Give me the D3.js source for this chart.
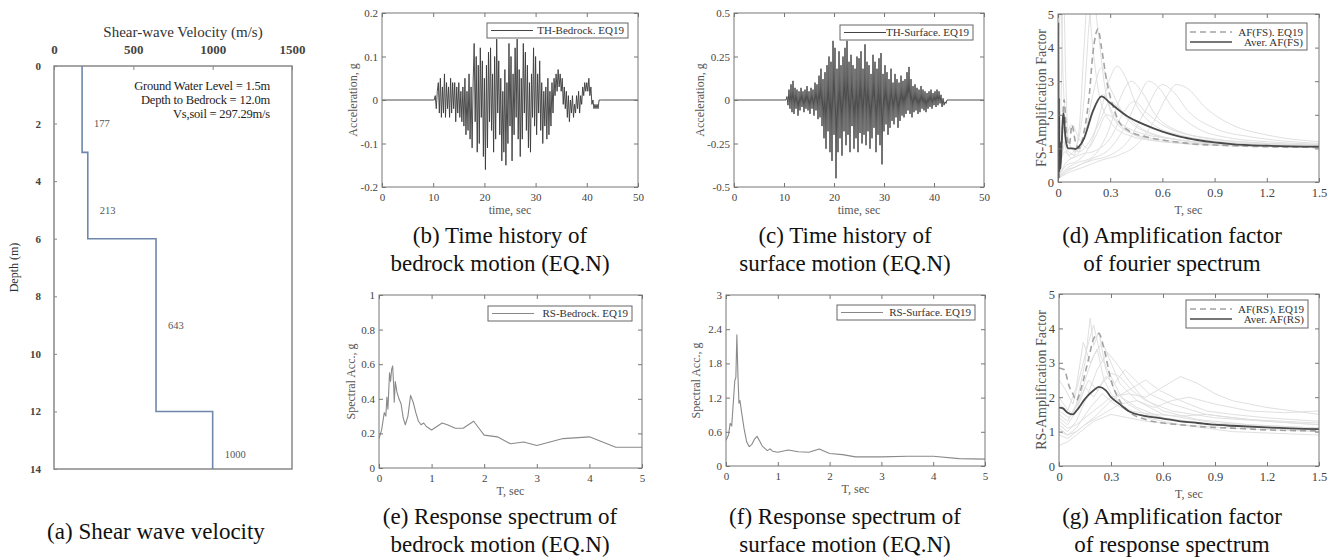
<!DOCTYPE html>
<html>
<head>
<meta charset="utf-8">
<script src="https://cdn.jsdelivr.net/npm/d3@7"></script>
<style>
	body { margin: 0; background: #fff; }
	svg text { font-family: 'Liberation Serif', 'Times New Roman', serif; }
</style>
</head>
<body>
<svg id="fig" width="1337" height="559"></svg>
<script>
// ---- data ----
const vsLayerTop = [0, 3, 6, 12]
const vsLayerBottom = [3, 6, 12, 14]
const vsValues = [177, 213, 643, 1000]
const siteNotes = ['Ground Water Level = 1.5m', 'Depth to Bedrock = 12.0m', 'Vs,soil = 297.29m/s']

// acceleration time histories, one sample every 0.2 s from 10 s
const thStart = 10
const thStep = 0.2
const thEnd = 50
const bedrockAcc = [
	0, 0, 0.01, -0.02, 0.02,
	0.04, -0.03, 0.05, -0.04, 0.03,
	-0.03, 0.06, -0.04, 0.04, -0.02,
	0.03, -0.04, 0.05, -0.03, 0.04,
	-0.02, 0.04, -0.05, 0.03, -0.03,
	0.04, -0.04, 0.02, -0.05, 0.03,
	-0.06, 0.05, -0.08, 0.02, -0.07,
	0.06, -0.09, 0.03, -0.11, 0.04,
	0.13, -0.05, 0.10, -0.12, 0.08,
	-0.10, 0.12, -0.04, 0.09, -0.13,
	0.05, -0.16, 0.08, -0.11, 0.11,
	-0.05, 0.12, -0.07, 0.06, -0.12,
	0.10, -0.09, 0.14, -0.03, 0.09,
	-0.08, 0.05, -0.14, 0.02, -0.12,
	0.07, -0.15, 0.04, -0.10, 0.13,
	-0.06, 0.10, -0.14, 0.06, -0.08,
	0.12, -0.04, 0.14, -0.09, 0.07,
	-0.13, 0.05, -0.09, 0.13, -0.03,
	0.11, -0.07, 0.08, -0.11, 0.04,
	-0.12, 0.06, -0.04, 0.12, -0.06,
	0.10, -0.08, 0.06, -0.03, 0.09,
	-0.07, 0.04, -0.10, 0.02, -0.06,
	0.03, -0.09, 0.05, -0.08, 0.02,
	-0.06, 0.04, -0.03, 0.05, 0.01,
	0.06, 0.02, 0.07, 0.03, 0.06,
	0.02, 0.05, -0.01, 0.03, -0.02,
	0.02, -0.04, 0.01, -0.05, 0.00,
	-0.03, 0.01, -0.04, -0.01, -0.03,
	0.01, -0.02, 0.02, -0.03, 0.01,
	-0.01, 0.03, 0.01, 0.04, 0.02,
	0.04, 0.02, 0.05, 0.01, 0.03,
	-0.01, 0.00, -0.02, -0.01, -0.02,
	-0.01, -0.02, 0.00, 0.00, 0.00
]
const surfaceAcc = [
	0, 0, 0, 0.02, -0.03,
	0.06, -0.05, 0.09, -0.07, 0.11,
	-0.08, 0.07, -0.05, 0.06, -0.09,
	0.05, -0.06, 0.07, -0.04, 0.05,
	-0.07, 0.06, -0.05, 0.08, -0.06,
	0.05, -0.08, 0.07, -0.05, 0.06,
	-0.09, 0.10, -0.06, 0.09, -0.11,
	0.14, -0.10, 0.18, -0.15, 0.12,
	-0.22, 0.16, -0.28, 0.20, -0.18,
	0.25, -0.30, 0.22, -0.35, 0.34,
	-0.20, 0.30, -0.45, 0.18, -0.30,
	0.28, -0.22, 0.20, -0.32, 0.25,
	-0.18, 0.30, -0.26, 0.34, -0.20,
	0.22, -0.30, 0.26, -0.15, 0.20,
	-0.28, 0.18, -0.22, 0.25, -0.30,
	0.24, -0.19, 0.28, -0.25, 0.18,
	-0.20, 0.32, -0.26, 0.22, -0.18,
	0.20, -0.28, 0.15, -0.22, 0.26,
	-0.16, 0.22, -0.30, 0.18, -0.20,
	0.24, -0.26, 0.27, -0.37, 0.15,
	-0.18, 0.20, -0.14, 0.16, -0.20,
	0.12, -0.16, 0.18, -0.12, 0.10,
	-0.14, 0.15, -0.10, 0.12, -0.16,
	0.10, -0.12, 0.14, -0.09, 0.11,
	-0.10, 0.12, -0.08, 0.16, -0.06,
	0.19, -0.08, 0.12, -0.10, 0.08,
	-0.07, 0.09, -0.06, 0.07, -0.08,
	0.06, -0.07, 0.08, -0.05, 0.06,
	-0.06, 0.05, -0.07, 0.04, -0.05,
	0.05, -0.04, 0.06, -0.05, 0.04,
	-0.03, 0.05, -0.04, 0.06, -0.03,
	0.05, -0.02, 0.03, -0.04, 0.01,
	-0.03, -0.01, -0.02, 0.00, 0.00
]

// response spectra [T (s), Sa (g)]
const rsBedrock = [
	[0, 0.17], [0.05, 0.22], [0.1, 0.32], [0.13, 0.3], [0.15, 0.41], [0.17, 0.34], [0.2, 0.55],
	[0.22, 0.5], [0.24, 0.57], [0.26, 0.59], [0.28, 0.47], [0.29, 0.38], [0.31, 0.5], [0.34, 0.44],
	[0.38, 0.4], [0.42, 0.37], [0.46, 0.29], [0.5, 0.25], [0.55, 0.3], [0.6, 0.42], [0.65, 0.38],
	[0.7, 0.32], [0.75, 0.27], [0.8, 0.25], [0.85, 0.26], [0.9, 0.24], [1.0, 0.22], [1.1, 0.24],
	[1.2, 0.26], [1.3, 0.25], [1.45, 0.23], [1.6, 0.23], [1.7, 0.25], [1.8, 0.27], [1.9, 0.23],
	[2.0, 0.19], [2.25, 0.18], [2.5, 0.14], [2.75, 0.15], [3.0, 0.13], [3.25, 0.15], [3.5, 0.17],
	[4.0, 0.18], [4.5, 0.12], [5.0, 0.12]
]
const rsSurface = [
	[0, 0.45], [0.05, 0.55], [0.08, 0.75], [0.11, 0.7], [0.14, 1.1], [0.17, 1.5], [0.19, 1.55],
	[0.21, 2.3], [0.23, 1.6], [0.25, 1.1], [0.27, 1.15], [0.3, 0.95], [0.35, 0.65], [0.4, 0.42],
	[0.45, 0.34], [0.5, 0.38], [0.55, 0.47], [0.6, 0.52], [0.65, 0.44], [0.7, 0.35], [0.8, 0.27],
	[0.85, 0.3], [0.9, 0.26], [1.0, 0.24], [1.2, 0.28], [1.4, 0.25], [1.6, 0.24], [1.8, 0.3],
	[2.0, 0.22], [2.25, 0.2], [2.5, 0.16], [3.0, 0.16], [3.5, 0.17], [4.0, 0.17], [4.5, 0.13], [5.0, 0.12]
]

// amplification factor of fourier spectrum [T, AF]
const afFsAll = [
	[[0, 0.3], [0.03, 1.2], [0.06, 0.8], [0.1, 1.0], [0.15, 2.5], [0.18, 4.8], [0.2, 5.6], [0.23, 4.5], [0.27, 2.8], [0.32, 1.9], [0.4, 1.5], [0.6, 1.25], [0.9, 1.12], [1.2, 1.08], [1.5, 1.05]],
	[[0, 0.2], [0.02, 3.0], [0.03, 6], [0.045, 3], [0.06, 1.2], [0.1, 0.9], [0.15, 1.3], [0.22, 2.3], [0.26, 2.6], [0.32, 2.0], [0.45, 1.5], [0.7, 1.25], [1.0, 1.12], [1.5, 1.06]],
	[[0, 0.1], [0.05, 0.5], [0.1, 0.6], [0.15, 0.8], [0.2, 1.3], [0.25, 2.2], [0.3, 3.1], [0.34, 3.45], [0.38, 3.2], [0.45, 2.3], [0.55, 1.7], [0.7, 1.4], [0.9, 1.22], [1.2, 1.12], [1.5, 1.08]],
	[[0, 0.1], [0.05, 0.4], [0.1, 0.55], [0.2, 0.75], [0.28, 1.4], [0.35, 2.4], [0.42, 3.0], [0.48, 2.7], [0.56, 2.0], [0.7, 1.5], [0.9, 1.28], [1.2, 1.15], [1.5, 1.1]],
	[[0, 0.1], [0.05, 0.35], [0.1, 0.45], [0.2, 0.7], [0.3, 1.0], [0.4, 1.8], [0.47, 2.6], [0.52, 3.0], [0.58, 2.8], [0.66, 2.2], [0.8, 1.6], [1.0, 1.3], [1.2, 1.2], [1.5, 1.12]],
	[[0, 0.1], [0.05, 0.3], [0.12, 0.5], [0.2, 0.65], [0.3, 0.8], [0.4, 1.2], [0.5, 2.1], [0.6, 2.9], [0.66, 2.7], [0.75, 2.1], [0.9, 1.6], [1.1, 1.35], [1.3, 1.22], [1.5, 1.15]],
	[[0, 0.1], [0.05, 0.25], [0.15, 0.45], [0.25, 0.65], [0.35, 0.8], [0.45, 1.1], [0.55, 1.8], [0.62, 2.5], [0.68, 2.9], [0.74, 2.8], [0.85, 2.2], [1.0, 1.7], [1.2, 1.4], [1.5, 1.2]],
	[[0, 0.2], [0.03, 1.5], [0.06, 0.9], [0.1, 0.8], [0.15, 1.3], [0.2, 2.6], [0.25, 3.4], [0.3, 2.8], [0.38, 2.0], [0.5, 1.5], [0.7, 1.25], [1.0, 1.1], [1.5, 1.04]],
	[[0, 0.2], [0.04, 1.2], [0.08, 1.7], [0.12, 1.3], [0.17, 1.0], [0.22, 1.4], [0.28, 2.0], [0.32, 1.9], [0.4, 1.5], [0.6, 1.2], [1.0, 1.08], [1.5, 1.03]],
	[[0, 0.2], [0.04, 0.9], [0.08, 0.7], [0.12, 1.5], [0.15, 4.0], [0.17, 5.5], [0.2, 4.0], [0.24, 2.5], [0.3, 1.8], [0.4, 1.4], [0.6, 1.2], [1.0, 1.08], [1.5, 1.04]],
	[[0, 0.5], [0.015, 5.5], [0.03, 3.0], [0.05, 1.5], [0.08, 1.0], [0.12, 0.9], [0.18, 1.2], [0.24, 1.8], [0.3, 2.4], [0.35, 2.2], [0.45, 1.7], [0.6, 1.35], [0.9, 1.15], [1.5, 1.06]],
	[[0, 0.1], [0.05, 0.6], [0.1, 0.75], [0.15, 0.85], [0.2, 0.9], [0.3, 1.3], [0.38, 2.1], [0.44, 2.4], [0.5, 2.1], [0.6, 1.7], [0.8, 1.35], [1.1, 1.18], [1.5, 1.1]]
]
const afFsEq19 = [
	[0, 0.3], [0.02, 1.0], [0.035, 2.45], [0.05, 1.4], [0.065, 1.1], [0.08, 1.7], [0.1, 1.2], [0.12, 1.0],
	[0.15, 1.5], [0.18, 2.6], [0.2, 3.8], [0.23, 4.55], [0.25, 4.0], [0.28, 3.0], [0.32, 2.2], [0.35, 1.8],
	[0.4, 1.55], [0.5, 1.35], [0.6, 1.25], [0.7, 1.18], [0.8, 1.12], [0.9, 1.1], [1.0, 1.08], [1.2, 1.05], [1.5, 1.03]
]
const afFsMean = [
	[0, 0.2], [0.002, 4.75], [0.004, 0.1], [0.006, 2.5], [0.008, 0.3], [0.011, 1.2], [0.014, 0.4],
	[0.02, 1.0], [0.025, 1.6], [0.03, 2.05], [0.035, 1.9], [0.04, 1.5], [0.05, 1.1], [0.06, 1.0],
	[0.08, 1.0], [0.1, 0.98], [0.12, 1.05], [0.15, 1.3], [0.2, 2.1], [0.25, 2.55], [0.3, 2.35],
	[0.4, 1.95], [0.5, 1.7], [0.6, 1.5], [0.7, 1.35], [0.8, 1.25], [0.9, 1.18], [1.0, 1.13], [1.2, 1.08], [1.5, 1.05]
]

// amplification factor of response spectrum [T, AF]
const afRsAll = [
	[[0, 1.5], [0.05, 1.3], [0.1, 1.8], [0.15, 3.0], [0.18, 4.3], [0.2, 3.5], [0.23, 3.9], [0.27, 2.8], [0.32, 2.2], [0.4, 1.8], [0.5, 1.5], [0.7, 1.3], [1.0, 1.15], [1.5, 1.05]],
	[[0, 2.5], [0.04, 2.2], [0.08, 1.8], [0.12, 2.6], [0.16, 3.4], [0.2, 4.1], [0.24, 3.2], [0.3, 2.6], [0.36, 2.0], [0.45, 1.7], [0.6, 1.4], [0.9, 1.2], [1.2, 1.1], [1.5, 1.0]],
	[[0, 1.2], [0.05, 1.0], [0.1, 1.3], [0.16, 2.0], [0.22, 2.8], [0.28, 3.3], [0.33, 3.0], [0.4, 2.5], [0.48, 2.0], [0.6, 1.6], [0.8, 1.35], [1.1, 1.2], [1.5, 1.1]],
	[[0, 1.8], [0.05, 1.6], [0.1, 2.3], [0.14, 3.6], [0.18, 3.0], [0.22, 3.4], [0.26, 2.5], [0.3, 2.1], [0.38, 1.7], [0.5, 1.4], [0.7, 1.2], [1.0, 1.1], [1.5, 1.0]],
	[[0, 1.0], [0.05, 0.9], [0.1, 1.0], [0.2, 1.4], [0.3, 1.9], [0.4, 2.2], [0.5, 2.5], [0.58, 2.2], [0.7, 1.9], [0.85, 1.6], [1.0, 1.5], [1.2, 1.4], [1.5, 1.3]],
	[[0, 1.3], [0.05, 1.1], [0.1, 1.2], [0.2, 1.6], [0.3, 2.0], [0.4, 2.1], [0.5, 2.0], [0.6, 2.3], [0.7, 2.6], [0.8, 2.4], [0.9, 2.1], [1.0, 1.9], [1.2, 1.7], [1.5, 1.5]],
	[[0, 0.9], [0.05, 0.8], [0.1, 1.0], [0.15, 1.2], [0.25, 1.5], [0.35, 1.8], [0.45, 1.9], [0.55, 1.7], [0.65, 1.9], [0.75, 2.0], [0.9, 1.8], [1.1, 1.6], [1.3, 1.55], [1.5, 1.6]],
	[[0, 2.0], [0.04, 1.7], [0.08, 1.5], [0.12, 2.0], [0.17, 2.8], [0.2, 3.2], [0.25, 3.6], [0.3, 3.0], [0.35, 2.4], [0.45, 1.9], [0.6, 1.5], [0.9, 1.25], [1.5, 1.1]],
	[[0, 1.4], [0.05, 1.2], [0.1, 1.6], [0.15, 2.3], [0.2, 2.0], [0.25, 2.4], [0.3, 2.7], [0.35, 2.6], [0.42, 2.2], [0.5, 1.9], [0.65, 1.6], [0.9, 1.4], [1.2, 1.3], [1.5, 1.2]],
	[[0, 0.6], [0.05, 0.7], [0.1, 0.9], [0.15, 1.1], [0.2, 1.3], [0.3, 1.5], [0.4, 1.4], [0.5, 1.3], [0.7, 1.2], [1.0, 1.0], [1.5, 0.9]],
	[[0, 1.6], [0.06, 1.4], [0.12, 1.9], [0.17, 2.5], [0.22, 2.2], [0.27, 2.6], [0.32, 2.4], [0.38, 2.8], [0.44, 2.5], [0.52, 2.1], [0.65, 1.8], [0.85, 1.5], [1.1, 1.35], [1.5, 1.25]],
	[[0, 1.1], [0.05, 0.9], [0.1, 1.1], [0.18, 1.7], [0.25, 2.1], [0.32, 1.8], [0.4, 1.6], [0.55, 1.5], [0.7, 1.45], [0.85, 1.5], [1.0, 1.4], [1.2, 1.3], [1.5, 1.2]]
]
const afRsEq19 = [
	[0, 2.85], [0.03, 2.8], [0.06, 2.3], [0.08, 2.1], [0.1, 1.9], [0.13, 2.3], [0.17, 3.1], [0.2, 3.7],
	[0.23, 3.85], [0.26, 3.4], [0.3, 2.5], [0.35, 1.9], [0.4, 1.6], [0.5, 1.35], [0.6, 1.25], [0.7, 1.2],
	[0.8, 1.15], [0.9, 1.12], [1.0, 1.1], [1.2, 1.05], [1.5, 1.02]
]
const afRsMean = [
	[0, 1.7], [0.02, 1.68], [0.05, 1.55], [0.08, 1.5], [0.1, 1.6], [0.15, 1.95], [0.2, 2.2], [0.23, 2.3],
	[0.27, 2.2], [0.3, 2.0], [0.35, 1.8], [0.4, 1.6], [0.5, 1.45], [0.6, 1.38], [0.7, 1.3], [0.8, 1.25],
	[0.9, 1.2], [1.0, 1.17], [1.2, 1.12], [1.5, 1.07]
]

// tick values
const vsTicks = [0, 500, 1000, 1500]
const depthTicks = [0, 2, 4, 6, 8, 10, 12, 14]
const timeTicks = [0, 10, 20, 30, 40, 50]
const bedrockAccTicks = [-0.2, -0.1, 0, 0.1, 0.2]
const surfaceAccTicks = [-0.5, -0.25, 0, 0.25, 0.5]
const periodTicks = [0, 1, 2, 3, 4, 5]
const bedrockSaTicks = [0, 0.2, 0.4, 0.6, 0.8, 1]
const surfaceSaTicks = [0, 0.6, 1.2, 1.8, 2.4, 3]
const afPeriodTicks = [0, 0.3, 0.6, 0.9, 1.2, 1.5]
const afTicks = [0, 1, 2, 3, 4, 5]

// ---- drawing ----
const svg = d3.select('#fig')
let clipCount = 0
const fmt = d => String(d)

function panel(box, xDom, yDom, xTicks, yTicks, o) {
	const x = d3.scaleLinear().domain(xDom).range([box.left, box.right])
	const y = d3.scaleLinear().domain(yDom).range([box.bottom, box.top])
	const id = 'clip' + clipCount++
	svg.append('clipPath')
		.attr('id', id)
		.append('rect')
		.attr('x', box.left)
		.attr('y', box.top)
		.attr('width', box.right - box.left)
		.attr('height', box.bottom - box.top)

	const plot = svg.append('g').attr('clip-path', `url(#${id})`)
	const axes = svg.append('g').attr('class', 'axes')

	axes.append('g')
		.attr('transform', `translate(0,${box.bottom})`)
		.call(d3.axisBottom(x).tickValues(xTicks).tickSizeInner(-4).tickSizeOuter(0).tickPadding(o.pad).tickFormat(fmt))
	axes.append('g')
		.attr('transform', `translate(0,${box.top})`)
		.call(d3.axisTop(x).tickValues(xTicks).tickSizeInner(-4).tickSizeOuter(0).tickFormat(''))
	axes.append('g')
		.attr('transform', `translate(${box.left},0)`)
		.call(d3.axisLeft(y).tickValues(yTicks).tickSizeInner(-4).tickSizeOuter(0).tickPadding(o.pad - 2).tickFormat(fmt))
	axes.append('g')
		.attr('transform', `translate(${box.right},0)`)
		.call(d3.axisRight(y).tickValues(yTicks).tickSizeInner(-4).tickSizeOuter(0).tickFormat(''))

	axes.selectAll('.domain').remove()
	axes.selectAll('.tick line').attr('stroke', '#777')
	axes.selectAll('.tick text')
		.attr('font-family', 'Liberation Serif, serif')
		.attr('font-size', o.tickSize)
		.attr('fill', '#444')

	axes.append('rect')
		.attr('x', box.left)
		.attr('y', box.top)
		.attr('width', box.right - box.left)
		.attr('height', box.bottom - box.top)
		.attr('fill', 'none')
		.attr('stroke', '#777')
		.attr('stroke-width', 1)

	axes.append('text')
		.attr('x', (box.left + box.right) / 2)
		.attr('y', box.bottom + o.xLabelGap)
		.attr('text-anchor', 'middle')
		.attr('font-size', o.labelSize)
		.attr('fill', '#555')
		.text(o.xLabel)

	axes.append('text')
		.attr('transform', `translate(${o.yLabelX},${(box.top + box.bottom) / 2}) rotate(-90)`)
		.attr('text-anchor', 'middle')
		.attr('font-size', o.yLabelSize || o.labelSize)
		.attr('fill', '#555')
		.text(o.yLabel)

	return { x, y, plot, axes }
}

function legend(axes, b, entries) {
	axes.append('rect')
		.attr('x', b.x)
		.attr('y', b.y)
		.attr('width', b.w)
		.attr('height', b.h)
		.attr('fill', '#fff')
		.attr('stroke', '#666')
	entries.forEach((e, i) => {
		const ly = b.y + b.first + i * b.step
		axes.append('line')
			.attr('x1', b.x + 4)
			.attr('x2', b.x + b.lineLen)
			.attr('y1', ly)
			.attr('y2', ly)
			.attr('stroke', e.color)
			.attr('stroke-width', e.width)
			.attr('stroke-dasharray', e.dash || null)
		axes.append('text')
			.attr('x', b.x + b.w - 4)
			.attr('y', ly + 3.5)
			.attr('text-anchor', 'end')
			.attr('font-size', 11)
			.attr('fill', '#333')
			.text(e.label)
	})
}

function drawLine(p, pts, style, curve) {
	p.plot.append('path')
		.attr('d', d3.line().x(d => p.x(d[0])).y(d => p.y(d[1])).curve(curve || d3.curveLinear)(pts))
		.attr('fill', 'none')
		.attr('stroke', style.color)
		.attr('stroke-width', style.width)
		.attr('stroke-dasharray', style.dash || null)
		.attr('stroke-linejoin', 'round')
}

function caption(cx, y0, lines) {
	lines.forEach((t, i) => {
		svg.append('text')
			.attr('x', cx)
			.attr('y', y0 + i * 28)
			.attr('text-anchor', 'middle')
			.attr('font-size', 23)
			.attr('fill', '#111')
			.text(t)
	})
}

function timeHistory(values) {
	const pts = [[0, 0]]
	values.forEach((v, i) => pts.push([thStart + i * thStep, v]))
	pts.push([thEnd, 0])
	return pts
}

// (a) shear wave velocity profile
const boxA = { left: 54, right: 292, top: 66, bottom: 469 }
const xa = d3.scaleLinear().domain([0, 1500]).range([boxA.left, boxA.right])
const ya = d3.scaleLinear().domain([0, 14]).range([boxA.top, boxA.bottom])

const ga = svg.append('g')
ga.append('rect')
	.attr('x', boxA.left)
	.attr('y', boxA.top)
	.attr('width', boxA.right - boxA.left)
	.attr('height', boxA.bottom - boxA.top)
	.attr('fill', 'none')
	.attr('stroke', '#888')
	.attr('stroke-width', 1.5)

const topAxis = ga.append('g')
	.attr('transform', `translate(0,${boxA.top})`)
	.call(d3.axisTop(xa).tickValues(vsTicks).tickSizeInner(-4).tickSizeOuter(0).tickPadding(12).tickFormat(fmt))
topAxis.selectAll('text')
	.attr('font-family', 'Liberation Serif, serif')
	.attr('font-size', 13)
	.attr('font-weight', 'bold')
	.attr('fill', '#444')

const leftAxis = ga.append('g')
	.attr('transform', `translate(${boxA.left},0)`)
	.call(d3.axisLeft(ya).tickValues(depthTicks).tickSizeInner(-3).tickSizeOuter(0).tickPadding(13).tickFormat(fmt))
leftAxis.selectAll('text')
	.attr('font-family', 'Liberation Sans, Arial, sans-serif')
	.attr('font-size', 11)
	.attr('font-weight', 'bold')
	.attr('fill', '#444')
ga.selectAll('.domain').remove()
ga.selectAll('.tick line').attr('stroke', '#888')

ga.append('text')
	.attr('x', (boxA.left + boxA.right) / 2 + 10)
	.attr('y', 37)
	.attr('text-anchor', 'middle')
	.attr('font-size', 15)
	.attr('fill', '#333')
	.text('Shear-wave Velocity (m/s)')

ga.append('text')
	.attr('transform', `translate(18,${(boxA.top + boxA.bottom) / 2}) rotate(-90)`)
	.attr('text-anchor', 'middle')
	.attr('font-family', 'Liberation Sans, Arial, sans-serif')
	.attr('font-size', 12)
	.attr('fill', '#333')
	.text('Depth (m)')

const vsPts = []
vsValues.forEach((v, i) => {
	vsPts.push([v, vsLayerTop[i]])
	vsPts.push([v, vsLayerBottom[i]])
})
ga.append('path')
	.attr('d', d3.line().x(d => xa(d[0])).y(d => ya(d[1]))(vsPts))
	.attr('fill', 'none')
	.attr('stroke', '#6f87ab')
	.attr('stroke-width', 1.6)

vsValues.forEach((v, i) => {
	const thick = vsLayerBottom[i] - vsLayerTop[i]
	const mid = (vsLayerTop[i] + vsLayerBottom[i]) / 2
	ga.append('text')
		.attr('x', xa(v) + 12)
		.attr('y', ya(mid) + (thick <= 3 ? 18 : 4))
		.attr('font-family', 'Liberation Sans, Arial, sans-serif')
		.attr('font-size', 10.5)
		.attr('fill', '#555')
		.text(v)
})

siteNotes.forEach((t, i) => {
	ga.append('text')
		.attr('x', 270)
		.attr('y', 90 + i * 14)
		.attr('text-anchor', 'end')
		.attr('font-size', 12.5)
		.attr('letter-spacing', -0.2)
		.attr('fill', '#222')
		.text(t)
})
caption(156, 539, ['(a) Shear wave velocity'])

// (b) bedrock time history
const smallAxes = { pad: 6, tickSize: 11, labelSize: 12, xLabelGap: 27 }
const pb = panel({ left: 382, right: 638, top: 13, bottom: 187 }, [0, 50], [-0.2, 0.2], timeTicks, bedrockAccTicks,
	{ ...smallAxes, xLabel: 'time, sec', yLabel: 'Acceleration, g', yLabelX: 357 })
drawLine(pb, timeHistory(bedrockAcc), { color: '#3a3a3a', width: 0.9 })
legend(pb.axes, { x: 487, y: 23, w: 141, h: 15, first: 7.5, step: 0, lineLen: 46 },
	[{ label: 'TH-Bedrock. EQ19', color: '#444', width: 1 }])
caption(500, 243, ['(b) Time history of', 'bedrock motion (EQ.N)'])

// (c) surface time history
const pc = panel({ left: 734, right: 984, top: 13, bottom: 187 }, [0, 50], [-0.5, 0.5], timeTicks, surfaceAccTicks,
	{ ...smallAxes, xLabel: 'time, sec', yLabel: 'Acceleration, g', yLabelX: 704 })
drawLine(pc, timeHistory(surfaceAcc), { color: '#3a3a3a', width: 0.9 })
legend(pc.axes, { x: 840, y: 25, w: 133, h: 15, first: 7.5, step: 0, lineLen: 46 },
	[{ label: 'TH-Surface. EQ19', color: '#444', width: 1 }])
caption(845, 243, ['(c) Time history of', 'surface motion (EQ.N)'])

// (d) amplification factor of fourier spectrum
const afAxes = { pad: 6, tickSize: 12.5, labelSize: 12, xLabelGap: 32, yLabelSize: 14 }
const pd = panel({ left: 1058, right: 1319, top: 14, bottom: 182 }, [0, 1.5], [0, 5], afPeriodTicks, afTicks,
	{ ...afAxes, xLabel: 'T, sec', yLabel: 'FS-Amplification Factor', yLabelX: 1046 })
afFsAll.forEach(c => drawLine(pd, c, { color: '#e0e0e0', width: 1 }, d3.curveMonotoneX))
drawLine(pd, afFsEq19, { color: '#a3a3a3', width: 1.6, dash: '6,4' }, d3.curveMonotoneX)
drawLine(pd, afFsMean, { color: '#4a4a4a', width: 1.8 }, d3.curveMonotoneX)
legend(pd.axes, { x: 1186, y: 23, w: 121, h: 27, first: 9, step: 10, lineLen: 46 }, [
	{ label: 'AF(FS). EQ19', color: '#a3a3a3', width: 1.4, dash: '6,4' },
	{ label: 'Aver. AF(FS)', color: '#4a4a4a', width: 1.6 }
])
caption(1172, 243, ['(d) Amplification factor', 'of fourier spectrum'])

// (e) bedrock response spectrum
const pe = panel({ left: 379, right: 642, top: 295, bottom: 468 }, [0, 5], [0, 1], periodTicks, bedrockSaTicks,
	{ ...smallAxes, xLabel: 'T, sec', yLabel: 'Spectral Acc., g', yLabelX: 355 })
drawLine(pe, rsBedrock, { color: '#8a8a8a', width: 1.1 })
legend(pe.axes, { x: 488, y: 306, w: 144, h: 15, first: 7.5, step: 0, lineLen: 46 },
	[{ label: 'RS-Bedrock. EQ19', color: '#888', width: 1 }])
caption(500, 524, ['(e) Response spectrum of', 'bedrock motion (EQ.N)'])

// (f) surface response spectrum
const pf = panel({ left: 726, right: 985, top: 295, bottom: 466 }, [0, 5], [0, 3], periodTicks, surfaceSaTicks,
	{ ...smallAxes, xLabel: 'T, sec', yLabel: 'Spectral Acc., g', yLabelX: 700 })
drawLine(pf, rsSurface, { color: '#8a8a8a', width: 1.1 })
legend(pf.axes, { x: 837, y: 305, w: 138, h: 15, first: 7.5, step: 0, lineLen: 46 },
	[{ label: 'RS-Surface. EQ19', color: '#888', width: 1 }])
caption(845, 524, ['(f) Response spectrum of', 'surface motion (EQ.N)'])

// (g) amplification factor of response spectrum
const pg = panel({ left: 1059, right: 1319, top: 294, bottom: 466 }, [0, 1.5], [0, 5], afPeriodTicks, afTicks,
	{ ...afAxes, xLabel: 'T, sec', yLabel: 'RS-Amplification Factor', yLabelX: 1046 })
afRsAll.forEach(c => drawLine(pg, c, { color: '#e0e0e0', width: 1 }))
drawLine(pg, afRsEq19, { color: '#a3a3a3', width: 1.6, dash: '6,4' }, d3.curveMonotoneX)
drawLine(pg, afRsMean, { color: '#4a4a4a', width: 1.8 }, d3.curveMonotoneX)
legend(pg.axes, { x: 1186, y: 300, w: 122, h: 28, first: 9, step: 10, lineLen: 46 }, [
	{ label: 'AF(RS). EQ19', color: '#a3a3a3', width: 1.4, dash: '6,4' },
	{ label: 'Aver. AF(RS)', color: '#4a4a4a', width: 1.6 }
])
caption(1172, 524, ['(g) Amplification factor', 'of response spectrum'])
</script>
</body>
</html>
